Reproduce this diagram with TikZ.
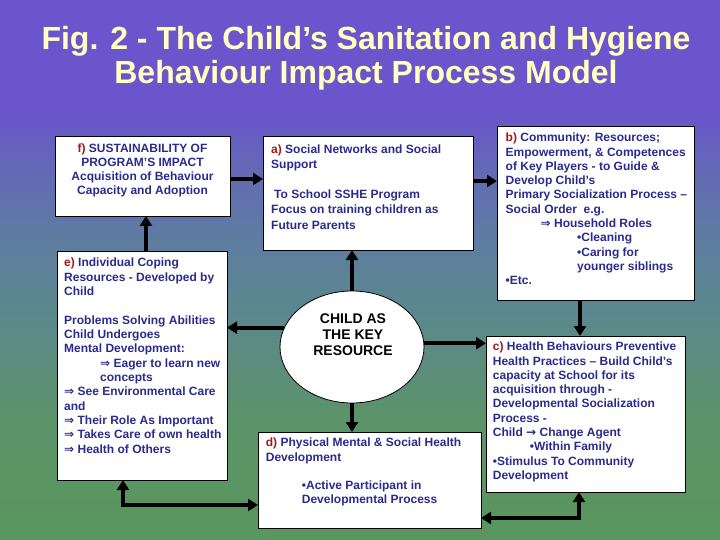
\documentclass[tikz,border=0pt]{standalone}
\usepackage{fontspec}
\setmainfont{Liberation Sans}
\newfontfamily\symf{DejaVu Sans}
\usetikzlibrary{arrows.meta,shapes.geometric}
\definecolor{navy}{HTML}{2B2B8E}
\definecolor{lab}{HTML}{A3161A}
\definecolor{cream}{HTML}{FFFFC4}
\definecolor{bgA}{HTML}{6A55CC}
\definecolor{bgB}{HTML}{6466B8}
\definecolor{bgC}{HTML}{5E7CA2}
\definecolor{bgD}{HTML}{5B8690}
\definecolor{bgE}{HTML}{5C8D7C}
\definecolor{bgF}{HTML}{5B9468}
\definecolor{bgG}{HTML}{5A965E}
\newcommand{\lbl}[1]{\textcolor{lab}{#1}}
\newcommand{\impl}{{\symf ⇒}}
\newcommand{\rarr}{{\symf →}}
\tikzset{
  box/.style={draw=black, line width=0.8pt, fill=white, rectangle, inner sep=0pt, outer sep=0pt},
  txt/.style={text=navy, inner sep=0pt, align=left, anchor=north west},
  arr/.style={line width=4pt, -{Triangle[length=10pt,width=12pt]}},
  dbl/.style={line width=4pt, {Triangle[length=10pt,width=12pt]}-{Triangle[length=10pt,width=12pt]}},
}
\begin{document}
\begin{tikzpicture}[x=1pt,y=-1pt]
\useasboundingbox (0,0) rectangle (720,540);
% background
\fill[bgA] (0,-0.5) rectangle (720,112.5);
\shade[top color=bgA,bottom color=bgB] (0,112) rectangle (720,160.5);
\shade[top color=bgB,bottom color=bgC] (0,160) rectangle (720,235.5);
\shade[top color=bgC,bottom color=bgD] (0,235) rectangle (720,300.5);
\shade[top color=bgD,bottom color=bgE] (0,300) rectangle (720,365.5);
\shade[top color=bgE,bottom color=bgF] (0,365) rectangle (720,420.5);
\shade[top color=bgF,bottom color=bgG] (0,420) rectangle (720,540.5);
% title
\node[font=\fontsize{32}{34}\selectfont\bfseries, text=cream, align=center, inner sep=0pt, anchor=north] (title) at (366,26)
  {Fig. 2 - The Child’s Sanitation and Hygiene\\Behaviour Impact Process Model};
% boxes
\node[box, minimum width=175pt, minimum height=80pt] (f) at (142.5,176) {};
\node[box, minimum width=210pt, minimum height=114pt] (a) at (368,193) {};
\node[box, minimum width=197pt, minimum height=174pt] (b) at (595.5,213) {};
\node[box, minimum width=170pt, minimum height=229pt] (e) at (142,365.5) {};
\node[box, minimum width=223pt, minimum height=96pt] (d) at (369.5,480) {};
\node[box, minimum width=199pt, minimum height=156pt] (c) at (585.5,414) {};
\node[draw=black, line width=0.8pt, fill=white, ellipse, inner sep=0pt, outer sep=0pt, minimum width=144pt, minimum height=112pt] (circ) at (352,347) {};
% texts
\node[txt, anchor=north, align=center, font=\fontsize{12}{14}\selectfont\bfseries] (ft) at (142.5,143.2)
  {\lbl{f)} SUSTAINABILITY OF\\PROGRAM’S IMPACT\\Acquisition of Behaviour\\Capacity and Adoption};
\node[txt, font=\fontsize{12}{15.2}\selectfont\bfseries] (at) at (271,144.2)
  {\lbl{a)} Social Networks and Social\\Support\\[15.2pt]\hspace*{3pt}To School SSHE Program\\Focus on training children as\\Future Parents};
\node[txt, font=\fontsize{12}{14.3}\selectfont\bfseries] (bt) at (505.5,132.9)
  {\lbl{b)} Community: Resources;\\Empowerment, \& Competences\\of Key Players - to Guide \&\\Develop Child’s\\Primary Socialization Process –\\Social Order\ \ e.g.\\\hspace*{35pt}\impl\ Household Roles\\\hspace*{71.5pt}•Cleaning\\\hspace*{71.5pt}•Caring for\\\hspace*{71.5pt}younger siblings\\•Etc.};
\node[txt, font=\fontsize{12}{14.33}\selectfont\bfseries] (et) at (64,257.9)
  {\lbl{e)} Individual Coping\\Resources - Developed by\\Child\\[14.33pt]Problems Solving Abilities\\Child Undergoes\\Mental Development:\\\hspace*{36pt}\impl\ Eager to learn new\\\hspace*{36pt}concepts\\\impl\ See Environmental Care\\and\\\impl\ Their Role As Important\\\impl\ Takes Care of own health\\\impl\ Health of Others};
\node[txt, font=\fontsize{12}{14.3}\selectfont\bfseries] (dt) at (265.7,437.9)
  {\lbl{d)} Physical Mental \& Social Health\\Development\\[14.3pt]\hspace*{36pt}•Active Participant in\\\hspace*{36pt}Developmental Process};
\node[txt, font=\fontsize{12}{14.3}\selectfont\bfseries] (ct) at (492.7,341.9)
  {\lbl{c)} Health Behaviours Preventive\\Health Practices – Build Child’s\\capacity at School for its\\acquisition through -\\Developmental Socialization\\Process -\\Child \rarr\ Change Agent\\\hspace*{37pt}•Within Family\\•Stimulus To Community\\Development};
\node[inner sep=0pt, anchor=north, align=center, text=black, font=\fontsize{14}{16.3}\selectfont\bfseries] (kt) at (353,313.1)
  {CHILD AS\\THE KEY\\RESOURCE};
% connectors
\coordinate (ed) at (123,505);
\coordinate (dc) at (579,518);
\coordinate (bc) at (580,0);
\draw[arr] ([yshift=-3pt]f.east) -- ([yshift=-3pt]f.east -| a.west);
\draw[arr] ([yshift=12pt]a.east) -- ([yshift=12pt]a.east -| b.west);
\draw[arr] ([xshift=4pt]e.north) -- ([xshift=4pt]e.north |- f.south);
\draw[arr] (circ.north) -- (circ.north |- a.south);
\draw[arr] (circ.164) -- (circ.164 -| e.east);
\draw[arr] (circ.3) -- (circ.3 -| c.west);
\draw[arr] (circ.south) -- (circ.south |- d.north);
\draw[arr] (b.south -| bc) -- (c.north -| bc);
\draw[dbl] (e.south -| ed) |- (ed -| d.west);
\draw[dbl] (dc -| d.east) -| (c.south -| dc);
\end{tikzpicture}
\end{document}
